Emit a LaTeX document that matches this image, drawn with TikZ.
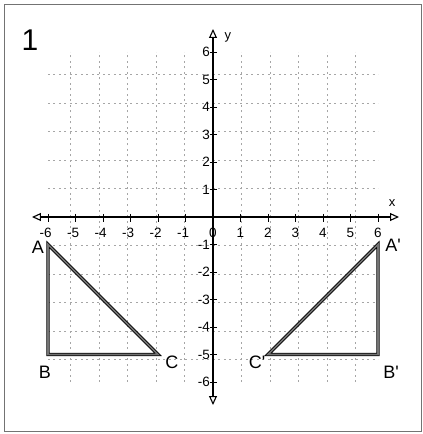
\documentclass[tikz,border=0pt]{standalone}
\usepackage{fontspec}
\setmainfont{Liberation Sans}
\usetikzlibrary{arrows.meta}
\tikzset{
  gridline/.style={black!35,line width=0.6pt,dash pattern=on 2pt off 3.5pt},
  axisline/.style={line width=1.1pt,-{Triangle[open,length=9pt,width=8pt]}},
  tickline/.style={line width=0.8pt},
  ticklabel/.style={font=\fontsize{13.5}{13.5}\selectfont,inner sep=1pt},
  ptlabel/.style={font=\fontsize{18}{18}\selectfont,inner sep=0pt},
  triside/.style={line width=0.8pt,double=black!55,double distance=1.6pt,line join=miter}
}

\begin{document}
\begin{tikzpicture}[x=27.5pt,y=27.5pt]

% ---------------- canvas ----------------
\useasboundingbox (-213pt,-217pt) rectangle (210pt,217pt);
\draw[black!55,line width=1pt] (-208pt,-214pt) rectangle (208pt,212pt);

% exercise number
\node[font=\fontsize{30}{30}\selectfont] (num) at (-183pt,177pt) {1};

\coordinate (O) at (0,0);

% axis tip coordinates (slightly past the grid)
\coordinate (XnegExt) at (-181pt,0);
\coordinate (XposExt) at (186pt,0);
\coordinate (YposExt) at (0,188pt);
\coordinate (YnegExt) at (0,-188pt);

% ---------------- grid ----------------
\draw[gridline] (-6,-6) grid (6,6);

% ---------------- coordinate axes ----------------
\draw[axisline] (O) -- (XposExt);
\draw[axisline] (O) -- (XnegExt);
\draw[axisline] (O) -- (YposExt);
\draw[axisline] (O) -- (YnegExt);

\node[font=\fontsize{13}{13}\selectfont] (xlab) at (179pt,14pt) {x};
\node[font=\fontsize{13}{13}\selectfont] (ylab) at (15pt,180pt) {y};

% ticks and their numbers
\foreach \i in {1,...,6} {
  \draw[tickline] (\i,3pt) -- (\i,-5pt);
  \draw[tickline] (-\i,3pt) -- (-\i,-5pt);
  \draw[tickline] (-3pt,\i) -- (4pt,\i);
  \draw[tickline] (-3pt,-\i) -- (4pt,-\i);
  \node[ticklabel] (xp\i) at (\i,-16pt) {\i};
  \node[ticklabel] (xn\i) at (-\i,-16pt) {\llap{-}\i};
  \node[ticklabel,anchor=east] (yp\i) at (-2pt,\i) {\i};
  \node[ticklabel,anchor=east] (yn\i) at (-2pt,-\i) {-\i};
}
\node[ticklabel] (zero) at (0,-16pt) {0};

% ---------------- triangle ABC ----------------
\coordinate (A) at (-6,-1);
\coordinate (B) at (-6,-5);
\coordinate (C) at (-2,-5);
\draw[triside] (A) -- (B) -- (C) -- cycle;

\node[ptlabel] (Alab) at ([xshift=-10pt,yshift=-3pt]A) {A};
\node[ptlabel] (Blab) at ([xshift=-3pt,yshift=-18pt]B) {B};
\node[ptlabel] (Clab) at ([xshift=14pt,yshift=-8pt]C) {C};

% ---------------- image A'B'C' ----------------
\coordinate (Ap) at (6,-1);
\coordinate (Bp) at (6,-5);
\coordinate (Cp) at (2,-5);
\draw[triside] (Ap) -- (Bp) -- (Cp) -- cycle;

\node[ptlabel] (Aplab) at ([xshift=15pt,yshift=-1pt]Ap) {A\textquotesingle};
\node[ptlabel] (Bplab) at ([xshift=13pt,yshift=-18pt]Bp) {B\textquotesingle};
\node[ptlabel] (Cplab) at ([xshift=-11pt,yshift=-8pt]Cp) {C\textquotesingle};

\end{tikzpicture}
\end{document}
